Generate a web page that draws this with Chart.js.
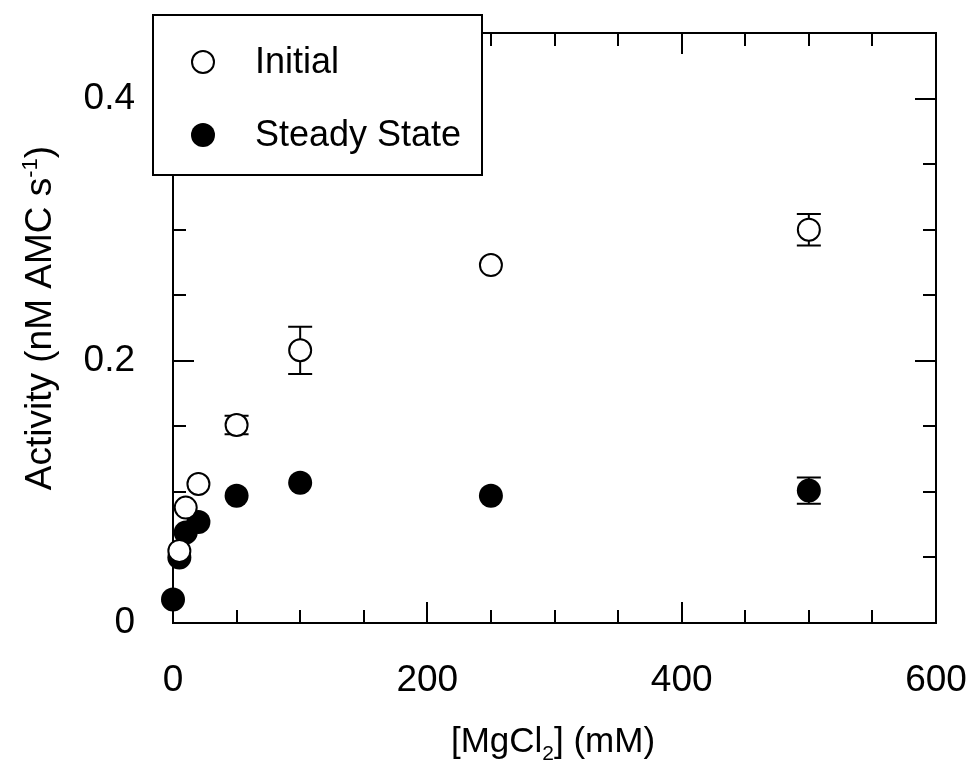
<!DOCTYPE html>
<html><head><meta charset="utf-8">
<script src="https://cdn.jsdelivr.net/npm/chart.js@4"></script>
<style>html,body{margin:0;padding:0;background:#fff;}</style>
</head><body>
<canvas id="c" width="969" height="763" style="display:block;width:969px;height:763px"></canvas>
<script>
// ---- data ----
const initialX = [5, 10, 20, 50, 100, 250, 500];
const initialY = [0.055, 0.088, 0.106, 0.151, 0.208, 0.273, 0.300];
const initialErr = [0, 0, 0, 0.007, 0.018, 0, 0.012];
const steadyX = [0, 5, 10, 20, 50, 100, 250, 500];
const steadyY = [0.018, 0.050, 0.069, 0.077, 0.097, 0.107, 0.097, 0.101];
const steadyErr = [0, 0, 0, 0, 0, 0, 0, 0.010];
const xTicks = [0, 200, 400, 600];
const xMinorTicks = [50, 100, 150, 250, 300, 350, 450, 500, 550];
const yTicks = [0, 0.2, 0.4];
const yMinorTicks = [0.05, 0.1, 0.15, 0.25, 0.3, 0.35];
const seriesLabels = ['Initial', 'Steady State'];

const FONT = "'Liberation Sans', Arial, sans-serif";

function pts(xs, ys, es) { return xs.map((x, i) => ({ x: x, y: ys[i], err: es[i] })); }

const framePlugin = {
  id: 'frame',
  beforeDatasetsDraw(chart) {
    const ctx = chart.ctx, a = chart.chartArea;
    const xs = chart.scales.x, ys = chart.scales.y;
    ctx.save();
    ctx.strokeStyle = '#000';
    ctx.lineWidth = 2;
    ctx.strokeRect(a.left, a.top, a.right - a.left, a.bottom - a.top);
    const MAJ = 21, MIN = 13;
    ctx.beginPath();
    const xt = (v, L) => {
      const p = Math.round(xs.getPixelForValue(v));
      ctx.moveTo(p, a.bottom); ctx.lineTo(p, a.bottom - L);
      ctx.moveTo(p, a.top); ctx.lineTo(p, a.top + L);
    };
    const yt = (v, L) => {
      const p = Math.round(ys.getPixelForValue(v));
      ctx.moveTo(a.left, p); ctx.lineTo(a.left + L, p);
      ctx.moveTo(a.right, p); ctx.lineTo(a.right - L, p);
    };
    xTicks.forEach(v => xt(v, MAJ));
    xMinorTicks.forEach(v => xt(v, MIN));
    yTicks.forEach(v => yt(v, MAJ));
    yMinorTicks.forEach(v => yt(v, MIN));
    ctx.stroke();
    // error bars
    ctx.beginPath();
    chart.data.datasets.forEach(ds => {
      ds.data.forEach(d => {
        if (!d.err) return;
        const px = xs.getPixelForValue(d.x);
        const y1 = ys.getPixelForValue(d.y + d.err);
        const y2 = ys.getPixelForValue(d.y - d.err);
        ctx.moveTo(px, y1); ctx.lineTo(px, y2);
        ctx.moveTo(px - 12, y1); ctx.lineTo(px + 12, y1);
        ctx.moveTo(px - 12, y2); ctx.lineTo(px + 12, y2);
      });
    });
    ctx.stroke();
    ctx.restore();
  },
  afterDraw(chart) {
    const ctx = chart.ctx;
    ctx.save();
    // legend box
    ctx.fillStyle = '#fff';
    ctx.fillRect(153, 15, 329, 160);
    ctx.strokeStyle = '#000';
    ctx.lineWidth = 2;
    ctx.strokeRect(153, 15, 329, 160);
    const rows = [62, 135];
    chart.data.datasets.forEach((ds, i) => {
      const cy = rows[i];
      ctx.beginPath();
      ctx.arc(203, cy, ds.pointRadius, 0, Math.PI * 2);
      ctx.fillStyle = ds.pointBackgroundColor;
      ctx.fill();
      ctx.lineWidth = ds.pointBorderWidth;
      ctx.strokeStyle = '#000';
      if (ds.pointBorderWidth) ctx.stroke();
      ctx.fillStyle = '#000';
      ctx.font = '36px ' + FONT;
      ctx.textAlign = 'left';
      ctx.textBaseline = 'middle';
      ctx.fillText(ds.label, 255, cy + 1);
    });
    // axis titles with sub/superscripts
    function drawParts(parts, cx, baseY, bigSize, smallSize) {
      const big = bigSize + 'px ' + FONT, small = smallSize + 'px ' + FONT;
      let total = 0;
      parts.forEach(p => { ctx.font = p[1] ? small : big; p.w = ctx.measureText(p[0]).width; total += p.w; });
      let x = cx - total / 2;
      ctx.textAlign = 'left';
      ctx.textBaseline = 'alphabetic';
      parts.forEach(p => {
        ctx.font = p[1] ? small : big;
        ctx.fillText(p[0], x, baseY + (p[1] || 0));
        x += p.w;
      });
    }
    ctx.fillStyle = '#000';
    drawParts([['[MgCl', 0], ['2', 8], ['] (mM)', 0]], 553, 752, 35, 21);
    ctx.translate(51, 318);
    ctx.rotate(-Math.PI / 2);
    drawParts([['Activity (nM AMC s', 0], ['-1', -14], [')', 0]], 0, 0, 37, 22);
    ctx.restore();
  }
};

function zeroPad(s) { s.paddingLeft = 0; s.paddingRight = 0; s.paddingTop = 0; s.paddingBottom = 0; }

new Chart(document.getElementById('c'), {
  type: 'scatter',
  data: {
    datasets: [
      { label: seriesLabels[0], data: pts(initialX, initialY, initialErr),
        pointRadius: 11, pointHoverRadius: 11, pointBackgroundColor: '#fff',
        pointBorderColor: '#000', pointBorderWidth: 2, clip: false },
      { label: seriesLabels[1], data: pts(steadyX, steadyY, steadyErr),
        pointRadius: 12, pointHoverRadius: 12, pointBackgroundColor: '#000',
        pointBorderColor: '#000', pointBorderWidth: 0, clip: false }
    ]
  },
  options: {
    responsive: false,
    devicePixelRatio: 1,
    animation: false,
    events: [],
    layout: { padding: { left: 0, top: 33, right: 33, bottom: 0 } },
    plugins: { legend: { display: false }, tooltip: { enabled: false }, title: { display: false } },
    scales: {
      x: {
        type: 'linear', min: 0, max: 600,
        grid: { display: false, drawTicks: false },
        border: { display: false },
        afterBuildTicks: s => { s.ticks = xTicks.map(v => ({ value: v })); },
        afterFit: s => { s.height = 140; zeroPad(s); },
        ticks: { padding: 36, color: '#000', font: { family: FONT, size: 37 }, callback: v => String(v) }
      },
      y: {
        type: 'linear', min: 0, max: 0.45,
        grid: { display: false, drawTicks: false },
        border: { display: false },
        afterBuildTicks: s => { s.ticks = yTicks.map(v => ({ value: v })); },
        afterFit: s => { s.width = 173; zeroPad(s); },
        ticks: { padding: 38, color: '#000', font: { family: FONT, size: 37 }, callback: v => String(v) }
      }
    }
  },
  plugins: [framePlugin]
});
</script>
</body></html>
